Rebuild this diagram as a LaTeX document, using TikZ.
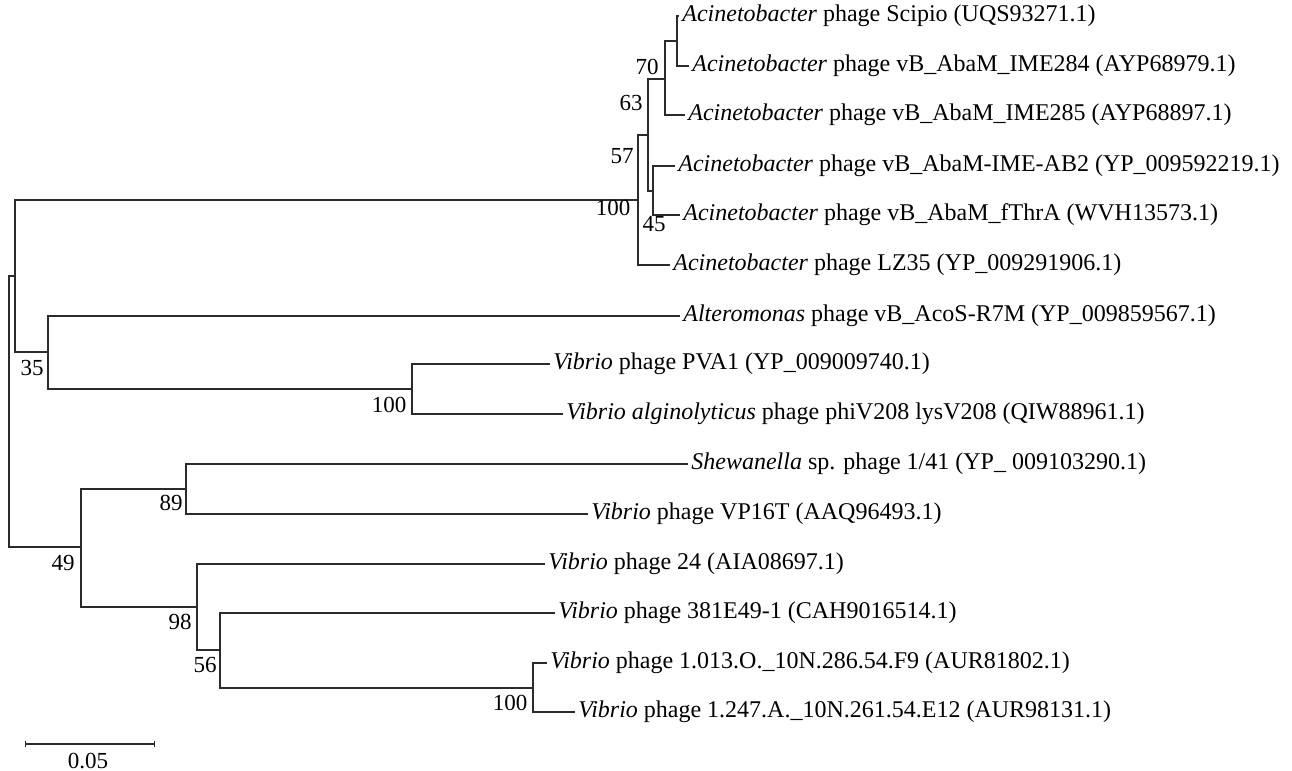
\documentclass[tikz,border=0pt]{standalone}
\usepackage{fontspec}
\setmainfont{Liberation Serif}
\usepackage{tikz}
\usetikzlibrary{arrows.meta}
\definecolor{TreeInk}{HTML}{2B2B2B}

\begin{document}
\begin{tikzpicture}[x=0.5pt,y=-0.5pt,
    branch/.style={draw=TreeInk,line width=0.65pt},
    taxon/.style={anchor=west,inner sep=1.5pt,text=black,font=\fontsize{12}{14}\selectfont},
    bootval/.style={inner sep=0pt,text=black,font=\fontsize{11.5}{13}\selectfont}]
  \useasboundingbox (0,0) rectangle (1292,771);

  % internal nodes of the tree
  \coordinate (root) at (9,411);
  \coordinate (upper) at (15,276);
  \coordinate (acin) at (638,200);
  \coordinate (acinA) at (648,135);
  \coordinate (acinB) at (665,79);
  \coordinate (acinC) at (677,41);
  \coordinate (acinD) at (653,191);
  \coordinate (altvib) at (48,352);
  \coordinate (pva) at (412,389);
  \coordinate (lower) at (81,547);
  \coordinate (shew) at (186,489);
  \coordinate (vibA) at (197,607);
  \coordinate (vibB) at (220,650);
  \coordinate (vibC) at (533,688);

  % taxa
  \node[taxon] (tScipio) at (679,16) {\textit{Acinetobacter} phage Scipio (UQS93271.1)};
  \node[taxon] (tIMEa) at (689,66) {\textit{Acinetobacter} phage vB\_AbaM\_IME284 (AYP68979.1)};
  \node[taxon] (tIMEb) at (685,115) {\textit{Acinetobacter} phage vB\_AbaM\_IME285 (AYP68897.1)};
  \node[taxon] (tAB) at (675,166) {\textit{Acinetobacter} phage vB\_AbaM-IME-AB2 (YP\_009592219.1)};
  \node[taxon] (tThr) at (680,215) {\textit{Acinetobacter} phage vB\_AbaM\_fThrA (WVH13573.1)};
  \node[taxon] (tLZ) at (670,265) {\textit{Acinetobacter} phage LZ35 (YP\_009291906.1)};
  \node[taxon] (tAlt) at (680,316) {\textit{Alteromonas} phage vB\_AcoS-R7M (YP\_009859567.1)};
  \node[taxon] (tPVA) at (550,364) {\textit{Vibrio} phage PVA1 (YP\_009009740.1)};
  \node[taxon] (tAlg) at (563,414) {\textit{Vibrio alginolyticus} phage phiV208 lysV208 (QIW88961.1)};
  \node[taxon] (tShew) at (688,464) {\textit{Shewanella} sp. phage 1/41 (YP\_ 009103290.1)};
  \node[taxon] (tVP) at (588,514) {\textit{Vibrio} phage VP16T (AAQ96493.1)};
  \node[taxon] (tTwf) at (545,564) {\textit{Vibrio} phage 24 (AIA08697.1)};
  \node[taxon] (tE49) at (555,613) {\textit{Vibrio} phage 381E49-1 (CAH9016514.1)};
  \node[taxon] (tF9) at (547,663) {\textit{Vibrio} phage 1.013.O.\_10N.286.54.F9 (AUR81802.1)};
  \node[taxon] (tE12) at (575,712) {\textit{Vibrio} phage 1.247.A.\_10N.261.54.E12 (AUR98131.1)};

  % branches
  \draw[branch] (root) |- (upper);
  \draw[branch] (root) |- (lower);
  \draw[branch] (upper) |- (acin);
  \draw[branch] (upper) |- (altvib);
  \draw[branch] (acin) |- (acinA);
  \draw[branch] (acin) |- (tLZ.west);
  \draw[branch] (acinA) |- (acinB);
  \draw[branch] (acinA) |- (acinD);
  \draw[branch] (acinB) |- (acinC);
  \draw[branch] (acinB) |- (tIMEb.west);
  \draw[branch] (acinC) |- (tScipio.west);
  \draw[branch] (acinC) |- (tIMEa.west);
  \draw[branch] (acinD) |- (tAB.west);
  \draw[branch] (acinD) |- (tThr.west);
  \draw[branch] (altvib) |- (tAlt.west);
  \draw[branch] (altvib) |- (pva);
  \draw[branch] (pva) |- (tPVA.west);
  \draw[branch] (pva) |- (tAlg.west);
  \draw[branch] (lower) |- (shew);
  \draw[branch] (lower) |- (vibA);
  \draw[branch] (shew) |- (tShew.west);
  \draw[branch] (shew) |- (tVP.west);
  \draw[branch] (vibA) |- (tTwf.west);
  \draw[branch] (vibA) |- (vibB);
  \draw[branch] (vibB) |- (tE49.west);
  \draw[branch] (vibB) |- (vibC);
  \draw[branch] (vibC) |- (tF9.west);
  \draw[branch] (vibC) |- (tE12.west);

  % bootstrap values
  \node[bootval] (bsC) at (647,67) {70};
  \node[bootval] (bsB) at (631,103) {63};
  \node[bootval] (bsA) at (622,156) {57};
  \node[bootval] (bsAcin) at (613,208) {100};
  \node[bootval] (bsD) at (654,224) {45};
  \node[bootval] (bsAlt) at (32,368) {35};
  \node[bootval] (bsPVA) at (389,405) {100};
  \node[bootval] (bsShew) at (171,503) {89};
  \node[bootval] (bsLow) at (63,563) {49};
  \node[bootval] (bsVibA) at (180,622) {98};
  \node[bootval] (bsVibB) at (205,665) {56};
  \node[bootval] (bsVibC) at (510,703) {100};

  % scale bar
  \coordinate (barL) at (25,744);
  \coordinate (barR) at (155,744);
  \draw[branch,{Bar[width=3pt]}-{Bar[width=3pt]}] (barL) -- (barR);
  \node[bootval] (barText) at (88,761) {0.05};
\end{tikzpicture}
\end{document}
